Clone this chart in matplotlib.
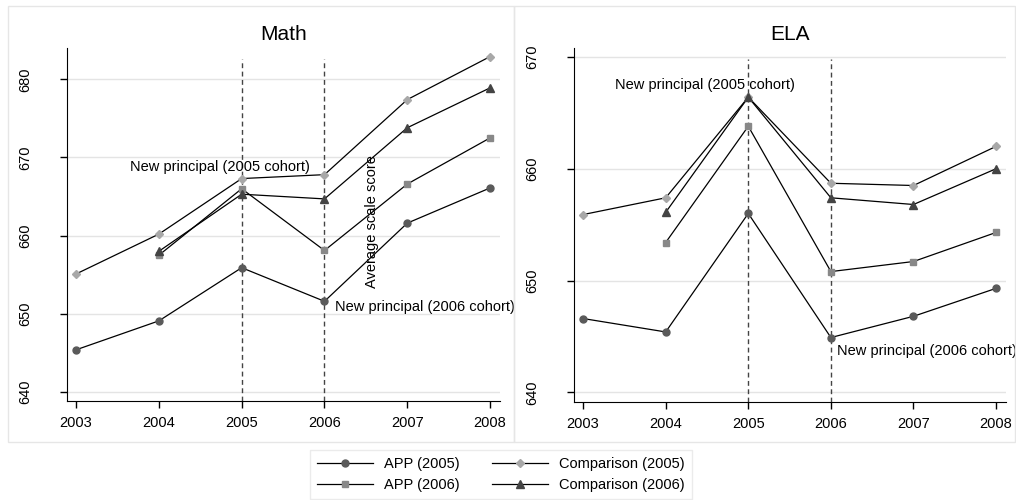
import matplotlib
matplotlib.use("Agg")
import matplotlib.pyplot as plt
from matplotlib.patches import Rectangle

plt.rcParams['font.family'] = ['Liberation Sans', 'DejaVu Sans']

years = [2003, 2004, 2005, 2006, 2007, 2008]
years_06 = [2004, 2005, 2006, 2007, 2008]

# Math scores
math_app05 = [645.4, 649.1, 655.9, 651.6, 661.6, 666.1]
math_cmp05 = [655.1, 660.2, 667.3, 667.8, 677.4, 682.9]
math_app06 = [657.5, 666.0, 658.1, 666.6, 672.5]
math_cmp06 = [658.0, 665.3, 664.7, 673.8, 678.9]

# ELA scores
ela_app05 = [646.6, 645.4, 656.0, 644.9, 646.8, 649.3]
ela_cmp05 = [655.9, 657.4, 666.4, 658.7, 658.5, 662.0]
ela_app06 = [653.4, 663.8, 650.8, 651.7, 654.3]
ela_cmp06 = [656.1, 666.4, 657.4, 656.8, 660.0]

series_labels = ['APP (2005)', 'Comparison (2005)', 'APP (2006)', 'Comparison (2006)']
yticks_math = [640, 650, 660, 670, 680]
yticks_ela = [640, 650, 660, 670]

FS = 10.5
W, H = 1016, 500

fig = plt.figure(figsize=(10.16, 5.0), dpi=100)

# light panel frames like stata graph combine
fig.patches.append(Rectangle((8 / W, 1 - 442 / H), (514 - 8) / W, (442 - 6) / H,
                             transform=fig.transFigure, fill=False,
                             edgecolor='#e6e6e6', linewidth=1))
fig.patches.append(Rectangle((514 / W, 1 - 442 / H), (1015 - 514) / W, (442 - 6) / H,
                             transform=fig.transFigure, fill=False,
                             edgecolor='#e6e6e6', linewidth=1))

ax1 = fig.add_axes([67 / W, 1 - 401 / H, (500 - 67) / W, (401 - 48) / H])
ax2 = fig.add_axes([574 / W, 1 - 401.7 / H, (1006 - 574) / W, (401.7 - 48) / H])


def draw_panel(ax, title, app05, cmp05, app06, cmp06, yticks, ylim):
    ax.set_facecolor('none')
    for yt in yticks:
        ax.axhline(yt, color='#e4e4e4', linewidth=1, zorder=0)
    top = (401 - 59) / (401 - 48)
    for x in [2005, 2006]:
        ax.axvline(x, ymin=0, ymax=top, color='#444444', linewidth=1,
                   linestyle=(0, (3.5, 2.5)), zorder=1)
    h1, = ax.plot(years, app05, color='black', linewidth=0.9, marker='o',
                  markersize=5, markerfacecolor='#5a5a5a', markeredgecolor='#5a5a5a', zorder=3)
    h2, = ax.plot(years, cmp05, color='black', linewidth=0.9, marker='D',
                  markersize=4.4, markerfacecolor='#a8a8a8', markeredgecolor='#a8a8a8', zorder=3)
    h3, = ax.plot(years_06, app06, color='black', linewidth=0.9, marker='s',
                  markersize=5, markerfacecolor='#888888', markeredgecolor='#888888', zorder=3)
    h4, = ax.plot(years_06, cmp06, color='black', linewidth=0.9, marker='^',
                  markersize=5.8, markerfacecolor='#444444', markeredgecolor='#444444', zorder=3)
    ax.set_xlim(2002.89, 2008.12)
    ax.set_ylim(*ylim)
    ax.set_xticks(years)
    ax.set_yticks(yticks)
    ax.tick_params(axis='both', direction='out', length=5, width=1, colors='black',
                   labelsize=FS)
    ax.tick_params(axis='x', pad=6)
    ax.tick_params(axis='y', pad=20)
    for lab in ax.get_yticklabels():
        lab.set_rotation(90)
        lab.set_va('center')
    ax.spines['top'].set_visible(False)
    ax.spines['right'].set_visible(False)
    ax.set_title(title, fontsize=15, pad=5.5)
    return [h1, h2, h3, h4]


handles = draw_panel(ax1, 'Math', math_app05, math_cmp05, math_app06, math_cmp06,
                     yticks_math, (638.85, 684.0))
draw_panel(ax2, 'ELA', ela_app05, ela_cmp05, ela_app06, ela_cmp06,
           yticks_ela, (639.16, 670.8))

ax1.text(2004.74, 668.8, 'New principal (2005 cohort)', ha='center', va='center',
         fontsize=FS, zorder=2)
ax1.text(2006.13, 650.9, 'New principal (2006 cohort)', ha='left', va='center',
         fontsize=FS, clip_on=False, zorder=2)
ax2.text(2004.48, 667.47, 'New principal (2005 cohort)', ha='center', va='center',
         fontsize=FS, zorder=2)
ax2.text(2006.08, 643.7, 'New principal (2006 cohort)', ha='left', va='center',
         fontsize=FS, clip_on=False, zorder=2)

# stray y axis title, sits inside the math panel in the original
fig.text(372 / W, 1 - 222 / H, 'Average scale score', rotation=90, ha='center',
         va='center', fontsize=FS)

order = [handles[0], handles[2], handles[1], handles[3]]
labels = [series_labels[0], series_labels[2], series_labels[1], series_labels[3]]
leg = fig.legend(order, labels, ncol=2, loc='upper left', bbox_to_anchor=(310 / W, 1 - 450 / H),
                 borderaxespad=0, fontsize=FS, handlelength=3.8, handletextpad=0.8,
                 columnspacing=2.2, labelspacing=0.45, borderpad=0.5, fancybox=False,
                 frameon=True)
leg.get_frame().set_edgecolor('#e6e6e6')
leg.get_frame().set_linewidth(1)

fig.savefig('out.png', dpi=100)
